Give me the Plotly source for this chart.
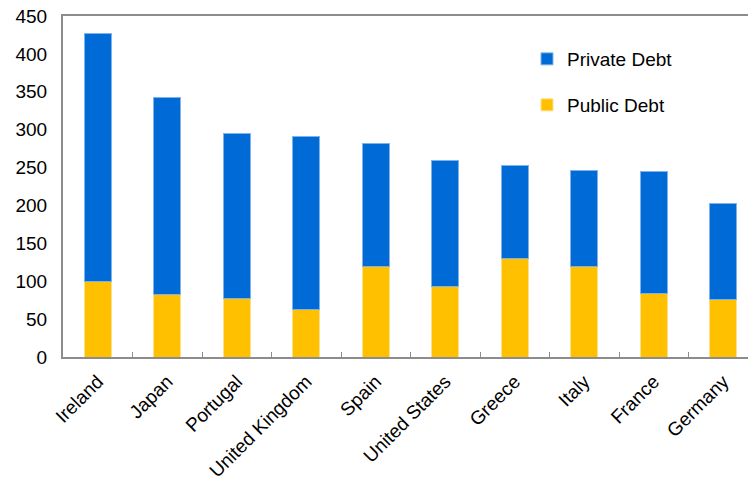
import plotly.graph_objects as go

countries = ["Ireland", "Japan", "Portugal", "United Kingdom", "Spain",
             "United States", "Greece", "Italy", "France", "Germany"]
public_debt = [99, 83, 77, 63, 120, 93, 130, 119, 84, 76]
private_debt = [328, 259, 218, 228, 162, 166, 123, 127, 161, 127]

BLUE = "#006ad6"
GOLD = "#ffc000"
FRAME = "#8c8c8c"
FONT = "Liberation Sans, Arial, sans-serif"
FS = 19

fig = go.Figure()
fig.add_trace(go.Bar(
    x=countries, y=public_debt, name="Public Debt",
    marker=dict(color=GOLD, line=dict(color="#ffe08a", width=1)),
    legend="legend2",
))
fig.add_trace(go.Bar(
    x=countries, y=private_debt, name="Private Debt",
    marker=dict(color=BLUE, line=dict(color="#7fb3ea", width=1)),
    legend="legend",
))

plot_w = 748 - 63
plot_h = 482 - 16 - 125

fig.update_layout(
    width=748, height=482,
    margin=dict(l=63, r=0, t=16, b=125),
    barmode="stack",
    bargap=0.615,
    plot_bgcolor="white",
    paper_bgcolor="white",
    font=dict(family=FONT, size=FS, color="#000000"),
    legend=dict(
        x=(527 - 63) / plot_w, y=(341 + 16 - 52 + 12) / plot_h,
        xanchor="left", yanchor="top",
        bgcolor="rgba(0,0,0,0)", font=dict(size=FS),
    ),
    legend2=dict(
        x=(527 - 63) / plot_w, y=(341 + 16 - 98 + 12) / plot_h,
        xanchor="left", yanchor="top",
        bgcolor="rgba(0,0,0,0)", font=dict(size=FS),
    ),
    showlegend=True,
)

fig.update_xaxes(
    type="category",
    range=[-0.5, -0.5 + plot_w / 69.5],
    showline=True, linecolor=FRAME, linewidth=2, mirror=True,
    ticks="inside", tickson="boundaries", ticklen=5, tickcolor=FRAME,
    tickangle=-45, tickfont=dict(size=FS), ticklabelstandoff=4,
    showgrid=False, zeroline=False,
)
fig.update_yaxes(
    range=[0, 450], dtick=50,
    showline=True, linecolor=FRAME, linewidth=2,
    ticks="", ticklabelstandoff=10, tickfont=dict(size=FS),
    showgrid=False, zeroline=False,
)

fig.write_html("out.html")
